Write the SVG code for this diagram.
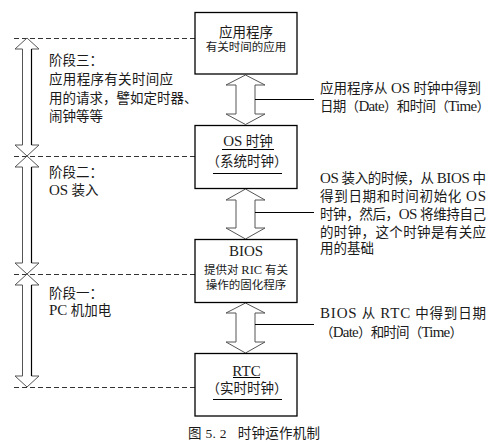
<svg xmlns="http://www.w3.org/2000/svg" width="501" height="446" viewBox="0 0 501 446">
<style>
text{font-family:"Liberation Serif","Noto Sans CJK SC",serif;fill:#1a1a1a}
.t13{font-size:13.5px}
.t11{font-size:11.5px}
.L{font-size:15px}
.box{fill:#fff;stroke:#000;stroke-width:1.3}
.arr{fill:#fff;stroke:#555;stroke-width:1}
.dash{stroke:#333;stroke-width:1;stroke-dasharray:5,3;fill:none}
.ln{stroke:#000;stroke-width:1.2;fill:none}
.ul{stroke:#000;stroke-width:1;fill:none}
</style>
<rect width="501" height="446" fill="#fff"/>
<g id="dashes">
<line class="dash" x1="14" y1="38.5" x2="195" y2="38.5"/>
<line class="dash" x1="14" y1="156.5" x2="195" y2="156.5"/>
<line class="dash" x1="14" y1="274.5" x2="195" y2="274.5"/>
<line class="dash" x1="14" y1="387.5" x2="195" y2="387.5"/>
</g>
<g id="connectors">
<path class="arr" d="M27,38 L39,49 L31.5,49 L31.5,145 L39,145 L27,156 L15,145 L22.5,145 L22.5,49 L15,49 Z"/>
<path class="arr" d="M27,156 L39,167 L31.5,167 L31.5,263 L39,263 L27,274 L15,263 L22.5,263 L22.5,167 L15,167 Z"/>
<path class="arr" d="M27,274 L39,285 L31.5,285 L31.5,376 L39,376 L27,387 L15,376 L22.5,376 L22.5,285 L15,285 Z"/>
<line class="ln" x1="31.5" y1="49" x2="31.5" y2="145"/>
<line class="ln" x1="31.5" y1="167" x2="31.5" y2="263"/>
<line class="ln" x1="31.5" y1="285" x2="31.5" y2="376"/>
<path class="arr" d="M245.5,75 L265,85 L255,85 L255,114 L265,114 L245.5,124.5 L226,114 L236,114 L236,85 L226,85 Z"/>
<path class="arr" d="M245.5,189 L265,200 L255,200 L255,228 L265,228 L245.5,239 L226,228 L236,228 L236,200 L226,200 Z"/>
<path class="arr" d="M245.5,303 L265,313 L255,313 L255,342 L265,342 L245.5,353 L226,342 L236,342 L236,313 L226,313 Z"/>
<line class="ln" x1="255" y1="99.5" x2="314" y2="99.5"/>
<line class="ln" x1="255" y1="212.5" x2="314" y2="212.5"/>
<line class="ln" x1="255" y1="324.5" x2="314" y2="324.5"/>
</g>
<g id="app">
<rect class="box" x="195" y="12.5" width="102" height="61.5"/>
<text class="t13" x="246" y="37" text-anchor="middle">应用程序</text>
<text class="t11" x="246" y="51" text-anchor="middle">有关时间的应用</text>
</g>
<g id="os">
<rect class="box" x="195" y="125.5" width="102" height="63"/>
<text class="t13" x="248" y="146" text-anchor="middle"><tspan class="L">OS</tspan> 时钟</text>
<line class="ul" x1="222" y1="149.5" x2="274" y2="149.5"/>
<text class="t13" x="247" y="166" text-anchor="middle">（系统时钟）</text>
<line class="ul" x1="213" y1="173.5" x2="282" y2="173.5"/>
</g>
<g id="bios">
<rect class="box" x="195" y="239.5" width="102" height="63"/>
<text class="t13" x="246" y="256" text-anchor="middle"><tspan class="L">BIOS</tspan></text>
<text class="t11" x="246" y="273.5" text-anchor="middle">提供对 <tspan font-size="12.5px">RIC</tspan> 有关</text>
<text class="t11" x="246" y="289" text-anchor="middle">操作的固化程序</text>
</g>
<g id="rtc">
<rect class="box" x="195" y="353.5" width="102" height="62.5"/>
<text class="t13" x="246.5" y="375.5" text-anchor="middle"><tspan class="L">RTC</tspan></text>
<line class="ul" x1="233" y1="377.5" x2="260" y2="377.5"/>
<text class="t13" x="247" y="393" text-anchor="middle">（实时时钟）</text>
<line class="ul" x1="213" y1="399.5" x2="282" y2="399.5"/>
</g>
<g id="left-text" class="t13">
<text x="49" y="65">阶段三：</text>
<text x="49" y="84" textLength="124" lengthAdjust="spacing">应用程序有关时间应</text>
<text x="49" y="103">用的请求，譬如定时器、</text>
<text x="49" y="121">闹钟等等</text>
<text x="49" y="177">阶段二：</text>
<text x="49" y="195"><tspan class="L">OS</tspan> 装入</text>
<text x="49" y="298">阶段一：</text>
<text x="49" y="315"><tspan class="L">PC</tspan> 机加电</text>
</g>
<g id="right-text" class="t13">
<text x="320" y="93" textLength="161" lengthAdjust="spacing">应用程序从 <tspan class="L">OS</tspan> 时钟中得到</text>
<text x="320" y="111" textLength="170" lengthAdjust="spacing">日期（<tspan class="L">Date</tspan>）和时间（<tspan class="L">Time</tspan>）</text>
<text x="320" y="183" textLength="166" lengthAdjust="spacing"><tspan class="L">OS</tspan> 装入的时候，从 <tspan class="L">BIOS</tspan> 中</text>
<text x="320" y="201" textLength="166" lengthAdjust="spacing">得到日期和时间初始化 <tspan class="L">OS</tspan></text>
<text x="320" y="219" textLength="166" lengthAdjust="spacing">时钟，然后，<tspan class="L">OS</tspan> 将维持自己</text>
<text x="320" y="236.5" textLength="166" lengthAdjust="spacing">的时钟，这个时钟是有关应</text>
<text x="320" y="253">用的基础</text>
<text x="320" y="318" textLength="166" lengthAdjust="spacing"><tspan class="L">BIOS</tspan> 从 <tspan class="L">RTC</tspan> 中得到日期</text>
<text x="320" y="337" textLength="143" lengthAdjust="spacing">（<tspan class="L">Date</tspan>）和时间（<tspan class="L">Time</tspan>）</text>
</g>
<g id="caption">
<text class="t13" x="188" y="438" textLength="132" lengthAdjust="spacing" xml:space="preserve">图 5. 2   时钟运作机制</text>
</g>
</svg>
